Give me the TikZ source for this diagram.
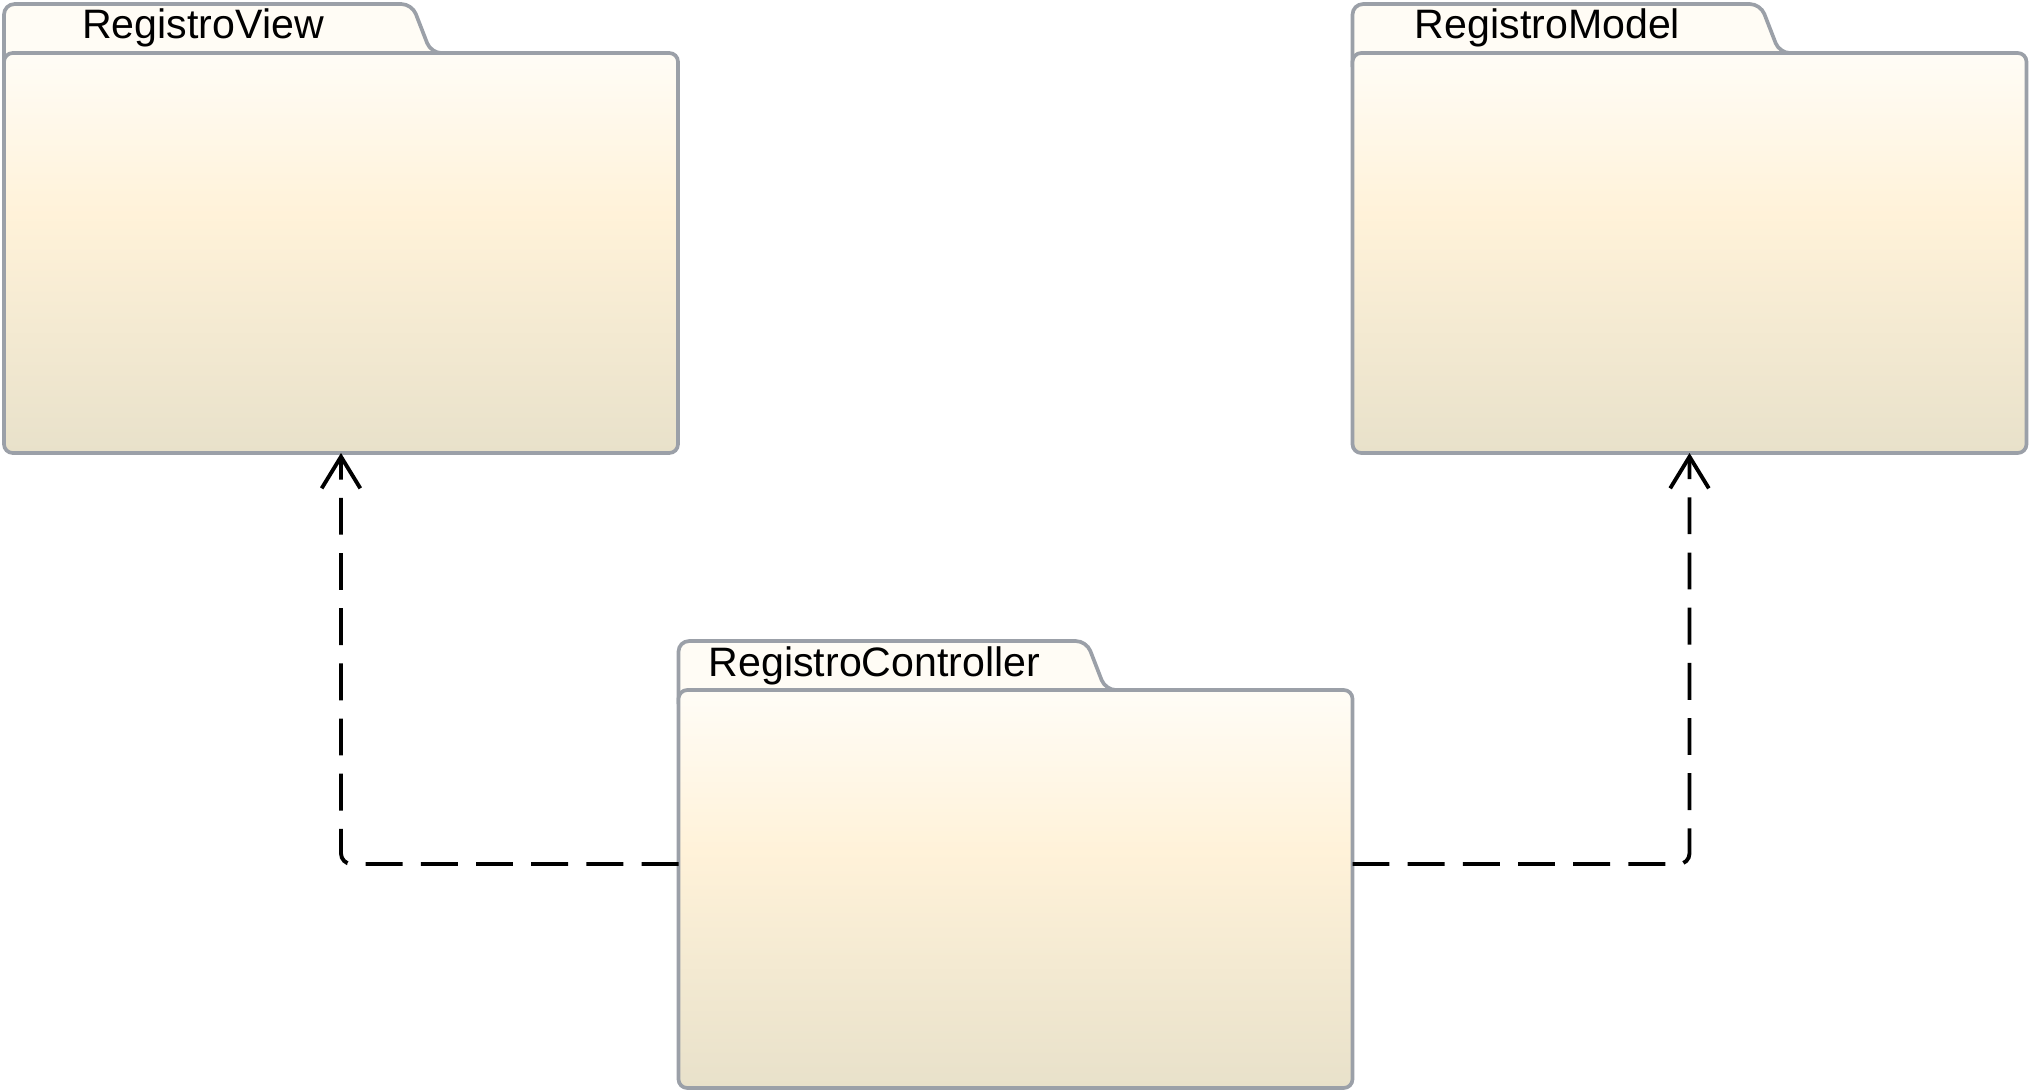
\documentclass[tikz,border=0pt]{standalone}
\usepackage{fontspec}
\setmainfont{Liberation Sans}
\usetikzlibrary{arrows.meta,backgrounds}
\definecolor{pkgborder}{HTML}{9BA0A8}
\definecolor{pkgtop}{HTML}{FFFCF5}
\definecolor{pkgmid}{HTML}{FFF2D9}
\definecolor{pkgbottom}{HTML}{E8E1CA}
\pgfdeclareverticalshading{pkgfill}{100bp}{color(0bp)=(pkgbottom); color(25bp)=(pkgbottom);
  color(55bp)=(pkgmid); color(74bp)=(pkgtop); color(100bp)=(pkgtop)}

\begin{document}
\begin{tikzpicture}[
    pkg/.style={draw=pkgborder,line width=1.05pt,rounded corners=2.5pt,
      shading=pkgfill,minimum width=6.74cm,minimum height=4cm,inner sep=0pt,outer sep=0pt},
    pkgtab/.style={draw=pkgborder,line width=1.05pt,fill=pkgtop,rounded corners=3pt},
    pkgname/.style={anchor=base,inner sep=0pt,font=\fontsize{11.7}{14}\selectfont},
    dep/.style={line width=1.1pt,dash pattern=on 10.5pt off 5.2pt,rounded corners=3pt,
      -{Straight Barb[length=9pt,width=11pt,line width=1.1pt]}}
  ]
  \useasboundingbox (0,0) rectangle (20.29,-10.91);

  % packages:
  \node[pkg] (view) at (3.41,-2.53) {};
  \node[pkg] (model) at (16.895,-2.53) {};
  \node[pkg,minimum height=3.98cm] (ctrl) at (10.155,-8.89) {};

  % tabs:
  \begin{scope}[on background layer]
    \foreach \p in {view,model,ctrl}
      \draw[pkgtab] ([yshift=-4pt]\p.north west) -- ++(0,0.63) -- ++(4.08,0)
        -- ++(0.19,-0.49) -- ++(0.1,0);
  \end{scope}
  \node[pkgname] (viewname) at ([xshift=1.99cm,yshift=0.14cm]view.north west) {RegistroView};
  \node[pkgname] (modelname) at ([xshift=1.95cm,yshift=0.14cm]model.north west) {RegistroModel};
  \node[pkgname] (ctrlname) at ([xshift=1.96cm,yshift=0.14cm]ctrl.north west) {RegistroController};

  % dependencies:
  \draw[dep] (ctrl.west |- 0,-8.64) -| (view.south);
  \draw[dep] (ctrl.east |- 0,-8.64) -| (model.south);
\end{tikzpicture}
\end{document}
